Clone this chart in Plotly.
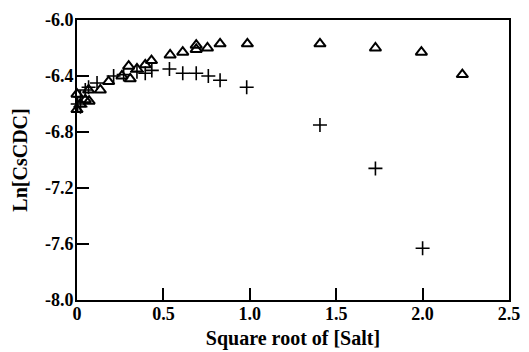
import plotly.graph_objects as go

tri_x = [0.0, 0.0, 0.02, 0.048, 0.067, 0.07, 0.135, 0.183, 0.26, 0.299, 0.308, 0.347, 0.395, 0.431,
         0.539, 0.612, 0.69, 0.69, 0.755, 0.828, 0.986, 1.406, 1.727, 1.993, 2.23]
tri_y = [-6.53, -6.64, -6.60, -6.57, -6.50, -6.58, -6.50, -6.44, -6.40, -6.33, -6.42, -6.35, -6.32, -6.29,
         -6.25, -6.23, -6.18, -6.21, -6.20, -6.17, -6.17, -6.17, -6.20, -6.23, -6.39]

plus_x = [0.004, 0.02, 0.02, 0.048, 0.067, 0.116, 0.212, 0.27, 0.347, 0.395, 0.433,
          0.535, 0.612, 0.69, 0.76, 0.828, 0.982, 1.406, 1.727, 2.0]
plus_y = [-6.60, -6.55, -6.62, -6.50, -6.48, -6.45, -6.40, -6.39, -6.37, -6.38, -6.36,
          -6.35, -6.38, -6.38, -6.40, -6.43, -6.48, -6.75, -7.06, -7.63]

x_ticks = [0, 0.5, 1.0, 1.5, 2.0, 2.5]
x_labels = ["0", "0.5", "1.0", "1.5", "2.0", "2.5"]
y_ticks = [-6.0, -6.4, -6.8, -7.2, -7.6, -8.0]
y_labels = ["-6.0", "-6.4", "-6.8", "-7.2", "-7.6", "-8.0"]

font = "Liberation Serif"

fig = go.Figure()
fig.add_trace(go.Scatter(x=tri_x, y=tri_y, mode="markers",
                         marker=dict(symbol="triangle-up-open", size=10, color="black",
                                     line=dict(width=2, color="black")),
                         showlegend=False, cliponaxis=False))
fig.add_trace(go.Scatter(x=plus_x, y=plus_y, mode="markers",
                         marker=dict(symbol="cross-thin-open", size=10, color="black",
                                     line=dict(width=1.6, color="black")),
                         showlegend=False, cliponaxis=False))

tf = dict(family=font, size=18, color="black")
fig.update_layout(
    width=529, height=352,
    margin=dict(l=69, r=28, t=12, b=60),
    paper_bgcolor="white", plot_bgcolor="white",
    font=dict(family=font, color="black", size=15),
    xaxis=dict(range=[0, 2.5], tickvals=x_ticks, ticktext=[f"<b>{t}</b>" for t in x_labels],
               automargin=False, ticklabelstandoff=-4,
               ticks="inside", ticklen=12, tickwidth=1.5, tickcolor="black",
               showline=True, linewidth=2, linecolor="black", mirror=True,
               showgrid=False, zeroline=False, tickfont=tf,
               title=dict(text="<b>Square root of [Salt]</b>",
                          font=dict(family=font, size=20), standoff=8)),
    yaxis=dict(range=[-8.0, -6.0], tickvals=y_ticks, ticktext=[f"<b>{t}</b>" for t in y_labels],
               automargin=False, ticklabelstandoff=-2,
               ticks="inside", ticklen=12, tickwidth=1.5, tickcolor="black",
               showline=True, linewidth=2, linecolor="black", mirror=True,
               showgrid=False, zeroline=False, tickfont=tf,
               title=dict(text="<b>Ln[CsCDC]</b>",
                          font=dict(family=font, size=20), standoff=12)),
)

fig.write_html("out.html")
